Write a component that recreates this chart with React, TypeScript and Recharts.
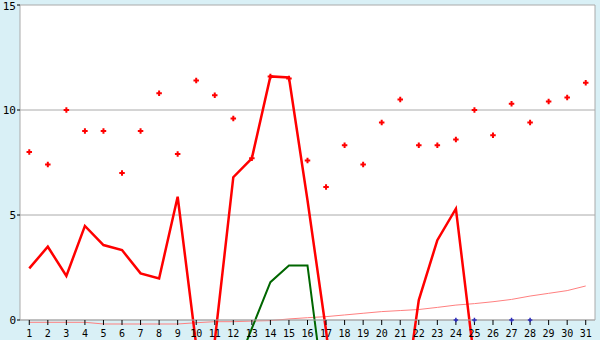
import React from 'react';
import { ComposedChart, Line, Scatter, XAxis, YAxis, CartesianGrid } from 'recharts';

const days = ['1','2','3','4','5','6','7','8','9','10','11','12','13','14','15','16','17','18','19','20','21','22','23','24','25','26','27','28','29','30','31'];

const redLine: (number | null)[] = [2.46, 3.49, 2.1, 4.48, 3.57, 3.33, 2.22, 1.98, 5.87, -1.2, -1.0, 6.8, 7.7, 11.6, 11.55, 5.7, -0.5, -8, -8, -8, -5.3, 0.95, 3.8, 5.3, -2.0, null, null, null, null, null, null];

const greenLine: (number | null)[] = [null, null, null, null, null, null, null, null, null, null, null, -2.6, -0.4, 1.8, 2.59, 2.59, -4.2, null, null, null, null, null, null, null, null, null, null, null, null, null, null];

const pinkLine: number[] = [-0.11, -0.11, -0.11, -0.11, -0.19, -0.19, -0.19, -0.19, -0.19, -0.13, -0.08, -0.08, -0.05, -0.03, 0.05, 0.11, 0.16, 0.24, 0.32, 0.4, 0.45, 0.5, 0.6, 0.71, 0.78, 0.87, 0.98, 1.14, 1.27, 1.4, 1.62];

const redDots: number[] = [8.0, 7.4, 10.0, 9.0, 9.0, 7.0, 9.0, 10.8, 7.9, 11.4, 10.7, 9.6, 7.7, 11.6, 11.5, 7.6, 6.33, 8.32, 7.4, 9.4, 10.5, 8.32, 8.32, 8.6, 10.0, 8.8, 10.3, 9.4, 10.4, 10.6, 11.3];

const blueDays = ['24', '25', '27', '28'];
const blueValue = 0;

const yTicks = [0, 5, 10, 15];

const data = days.map((d, i) => ({
  day: d,
  red: redLine[i],
  green: greenLine[i],
  pink: pinkLine[i],
  dot: redDots[i],
  blue: blueDays.includes(d) ? blueValue : null,
}));

const plusPath = (cx: number, cy: number, s: number, t: number) => {
  const h = s / 2;
  const a = t / 2;
  return `M${cx - a},${cy - h}H${cx + a}V${cy - a}H${cx + h}V${cy + a}H${cx + a}V${cy + h}H${cx - a}V${cy + a}H${cx - h}V${cy - a}H${cx - a}Z`;
};

const RedPlus = (props: any) => {
  const { cx, cy, payload } = props;
  if (payload == null || payload.dot == null || cx == null || cy == null) return <g />;
  return <path d={plusPath(cx, cy, 5.5, 2)} fill="#ff0000" />;
};

const BluePlus = (props: any) => {
  const { cx, cy, payload } = props;
  if (payload == null || payload.blue == null || cx == null || cy == null) return <g />;
  return <path d={plusPath(cx, cy, 4.5, 1.5)} fill="#2a2ab8" />;
};

const font = '"DejaVu Sans Mono", monospace';

export default function App() {
  return (
    <div style={{ position: 'absolute', left: 0, top: 0, width: 600, height: 340, background: '#d9f0f6' }}>
      <style>{`body{margin:0} .recharts-wrapper svg g[clip-path], .recharts-wrapper svg path[clip-path], .recharts-line, .recharts-line-curve { clip-path: none !important; }`}</style>
      <ComposedChart width={600} height={340} data={data} margin={{ top: 5, right: 0, bottom: 0, left: 0 }}>
        <CartesianGrid horizontal vertical={false} stroke="#aaaaaa" fill="#ffffff" />
        <XAxis
          dataKey="day"
          scale="point"
          padding={{ left: 9.27, right: 9.27 }}
          interval={0}
          height={20}
          tickSize={5}
          tickMargin={5}
          axisLine={{ stroke: '#aaaaaa' }}
          tickLine={{ stroke: '#000000' }}
          tick={{ fill: '#000000', fontSize: 10, fontFamily: font }}
        />
        <YAxis
          width={20}
          domain={[0, 15]}
          ticks={yTicks}
          allowDataOverflow
          tickSize={3}
          tickMargin={1}
          axisLine={{ stroke: '#aaaaaa' }}
          tickLine={{ stroke: '#000000' }}
          tick={{ fill: '#000000', fontSize: 11, fontFamily: font }}
        />
        <YAxis
          yAxisId="right"
          orientation="right"
          width={5}
          domain={[0, 15]}
          tick={false}
          tickLine={false}
          axisLine={{ stroke: '#aaaaaa' }}
        />
        <Line dataKey="pink" stroke="#ff8080" strokeWidth={1} dot={false} activeDot={false} isAnimationActive={false} />
        <Line dataKey="green" stroke="#006600" strokeWidth={2} dot={false} activeDot={false} isAnimationActive={false} />
        <Line dataKey="red" stroke="#ff0000" strokeWidth={2.5} dot={false} activeDot={false} isAnimationActive={false} />
        <Scatter dataKey="dot" shape={RedPlus} isAnimationActive={false} />
        <Scatter dataKey="blue" shape={BluePlus} isAnimationActive={false} />
      </ComposedChart>
    </div>
  );
}
